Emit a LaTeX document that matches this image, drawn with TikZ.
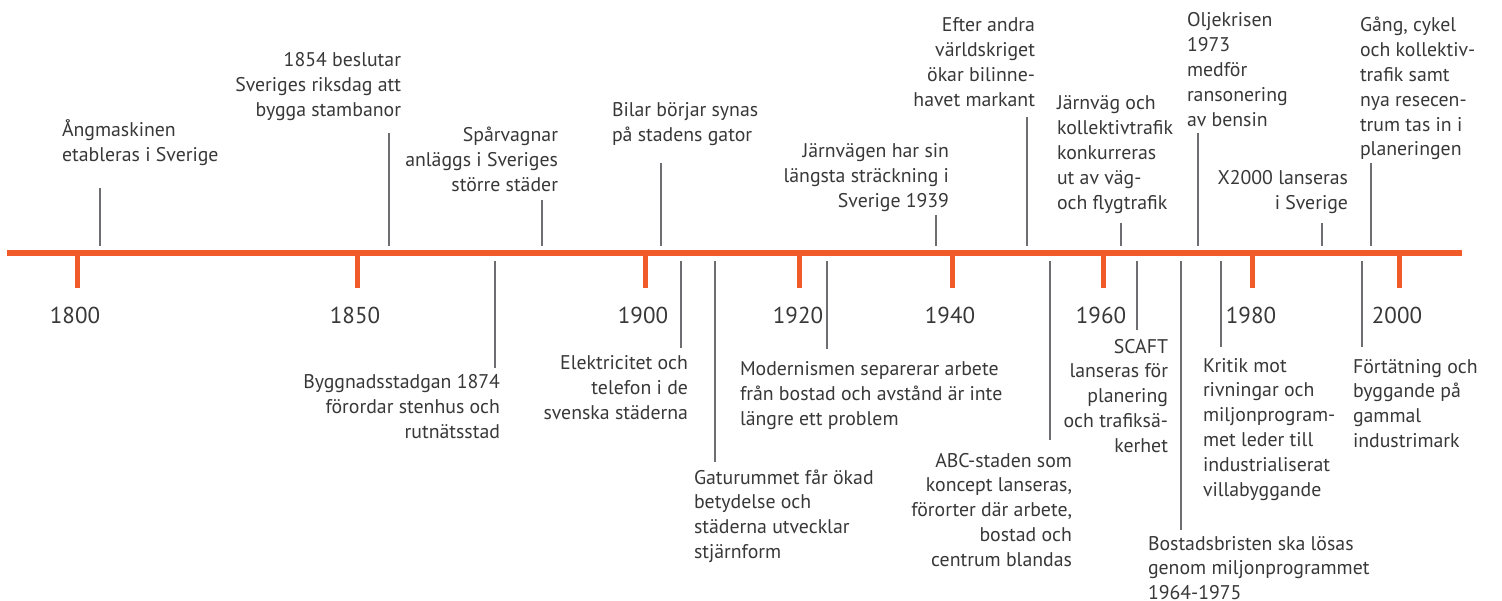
\documentclass[tikz,border=0pt]{standalone}
\usepackage{fontspec}
\setmainfont{PT Sans}
\definecolor{tlorange}{HTML}{F15A29}
\definecolor{txt}{HTML}{383838}
\definecolor{conn}{HTML}{6E6E72}
\newcommand\evfont{\fontsize{19.8}{24.8}\selectfont}
\newcommand\yrfont{\fontsize{23}{28}\selectfont}
\tikzset{
  ev/.style={font=\evfont, text=txt, inner sep=0pt, outer sep=0pt},
  evr/.style={ev, align=right},
  evl/.style={ev, align=left},
  connline/.style={draw=conn, line width=1.8pt},
  mainline/.style={draw=tlorange, line width=6pt},
  yeartick/.style={draw=tlorange, line width=5pt},
  yearlbl/.style={font=\yrfont, text=txt, inner sep=0pt, anchor=base}
}
\begin{document}
\begin{tikzpicture}[x=1pt,y=-1pt]
\useasboundingbox[fill=white] (0,0) rectangle (1502,601);

% main line
\coordinate (L0) at (7,253.5);
\coordinate (L1) at (1462,253.5);
\draw[mainline] (L0) -- (L1);

% year ticks and labels
\foreach \x/\yr in {77/1800, 357/1850, 645/1900, 799/1920, 952/1940, 1103/1960, 1252/1980, 1399/2000}{
  \coordinate (t\yr a) at (\x,253);
  \coordinate (t\yr b) at (\x,288);
  \draw[yeartick] (t\yr a) -- (t\yr b);
}
\node[yearlbl] (y1800) at (75,324) {1800};
\node[yearlbl] (y1850) at (355,324) {1850};
\node[yearlbl] (y1900) at (643,324) {1900};
\node[yearlbl] (y1920) at (798,324) {1920};
\node[yearlbl] (y1940) at (950,324) {1940};
\node[yearlbl] (y1960) at (1101,324) {1960};
\node[yearlbl] (y1980) at (1251,324) {1980};
\node[yearlbl] (y2000) at (1397,324) {2000};

% events above the line (anchored at the baseline of the last line)
\node[evl, anchor=base west] (a1) at (62,161.8) {Ångmaskinen\\etableras i Sverige};
\node[evr, anchor=base east] (a2) at (401,116.6) {1854 beslutar\\Sveriges riksdag att\\bygga stambanor};
\node[evr, anchor=base east] (a3) at (558,191.6) {Spårvagnar\\anläggs i Sveriges\\större städer};
\node[evl, anchor=base west] (a4) at (612,141.8) {Bilar börjar synas\\på stadens gator};
\node[evr, anchor=base east] (a5) at (949,207.6) {Järnvägen har sin\\längsta sträckning i\\Sverige 1939};
\node[evr, anchor=base east] (a6) at (1035,106.4) {Efter andra\\världskriget\\ökar bilinne-\\havet markant};
\node[evl, anchor=base west] (a7) at (1057,209.2) {Järnväg och\\kollektivtrafik\\konkurreras\\ut av väg-\\och flygtrafik};
\node[evl, anchor=base west] (a8) at (1187,126.2) {Oljekrisen\\1973\\medför\\ransonering\\av bensin};
\node[evr, anchor=base east] (a9) at (1348,209.8) {X2000 lanseras\\i Sverige};
\node[evl, anchor=base west] (a10) at (1360,156) {Gång, cykel\\och kollektiv-\\trafik samt\\nya resecen-\\trum tas in i\\planeringen};

\foreach \n/\x/\ya in {a1/100/188, a2/389/133, a3/542/200, a4/661/163, a5/936/215, a6/1027/117, a7/1121/223, a8/1198/133, a9/1322/223, a10/1371/163}{
  \coordinate (\n t) at (\x,\ya);
  \coordinate (\n b) at (\x,246);
  \draw[connline] (\n t) -- (\n b);
}

% events below the line
\node[evr, anchor=base east] (b1) at (500,438.6) {Byggnadsstadgan 1874\\förordar stenhus och\\rutnätsstad};
\node[evr, anchor=base east] (b2) at (688,419.6) {Elektricitet och\\telefon i de\\svenska städerna};
\node[evl, anchor=base west] (b3) at (694,558.4) {Gaturummet får ökad\\betydelse och\\städerna utvecklar\\stjärnform};
\node[evl, anchor=base west] (b4) at (740,425.6) {Modernismen separerar arbete\\från bostad och avstånd är inte\\längre ett problem};
\node[evr, anchor=base east] (b5) at (1072,566.2) {ABC-staden som\\koncept lanseras,\\förorter där arbete,\\bostad och\\centrum blandas};
\node[evr, anchor=base east] (b6) at (1168,452.2) {SCAFT\\lanseras för\\planering\\och trafiksä-\\kerhet};
\node[evl, anchor=base west] (b7) at (1148,599.6) {Bostadsbristen ska lösas\\genom miljonprogrammet\\1964-1975};
\node[evl, anchor=base west] (b8) at (1203,496) {Kritik mot\\rivningar och\\miljonprogram-\\met leder till\\industrialiserat\\villabyggande};
\node[evl, anchor=base west] (b9) at (1353,447.4) {Förtätning och\\byggande på\\gammal\\industrimark};

\foreach \n/\x/\yb in {b1/495/368, b2/681/348, b3/715/462, b4/827/349, b5/1050/440, b6/1137/330, b7/1181/530, b8/1221/347, b9/1362/347}{
  \coordinate (\n t) at (\x,261);
  \coordinate (\n b) at (\x,\yb);
  \draw[connline] (\n t) -- (\n b);
}
\end{tikzpicture}
\end{document}
